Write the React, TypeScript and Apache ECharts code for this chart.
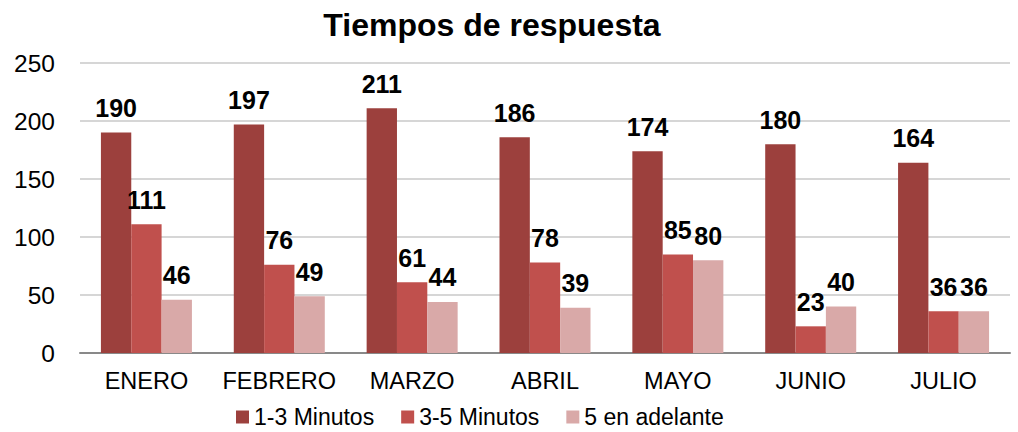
import React, { useEffect, useRef } from "react";
import * as echarts from "echarts";

const categories = ["ENERO", "FEBRERO", "MARZO", "ABRIL", "MAYO", "JUNIO", "JULIO"];
const s1Name = "1-3 Minutos";
const s2Name = "3-5 Minutos";
const s3Name = "5 en adelante";
const s1 = [190, 197, 211, 186, 174, 180, 164];
const s2 = [111, 76, 61, 78, 85, 23, 36];
const s3 = [46, 49, 44, 39, 80, 40, 36];
const colors = ["#9C403D", "#C0504D", "#D9A9A8"];

const FONT = "'Liberation Sans', Arial, sans-serif";

export default function App() {
  const ref = useRef<HTMLDivElement>(null);
  useEffect(() => {
    document.body.style.margin = "0";
    const chart = echarts.init(ref.current!, null, { renderer: "svg" });
    const label = {
      show: true,
      position: "top",
      distance: 12,
      fontFamily: FONT,
      fontWeight: "bold",
      fontSize: 25,
      color: "#000",
    };
    const mk = (name: string, data: number[], color: string) => ({
      name,
      type: "bar",
      data,
      barGap: "0%",
      barCategoryGap: "31.5%",
      itemStyle: { color },
      label,
    });
    chart.setOption({
      animation: false,
      textStyle: { fontFamily: FONT },
      title: {
        text: "Tiempos de respuesta",
        left: 487,
        textAlign: "center",
        top: 4,
        textStyle: { fontFamily: FONT, fontWeight: "bold", fontSize: 32, color: "#000" },
      },
      legend: {
        top: 405,
        left: 236,
        padding: 0,
        itemWidth: 13,
        itemHeight: 13,
        itemGap: 27,
        icon: "rect",
        textStyle: { fontFamily: FONT, fontSize: 23, color: "#000", lineHeight: 24, padding: [0, 0, 0, 0] },
        data: [s1Name, s2Name, s3Name],
      },
      grid: { left: 80, right: 8, top: 63, bottom: 79, containLabel: false },
      xAxis: {
        type: "category",
        data: categories,
        axisTick: { show: false },
        axisLine: { lineStyle: { color: "#898989", width: 2 } },
        axisLabel: { fontFamily: FONT, fontSize: 23.5, color: "#000", margin: 16, interval: 0 },
      },
      yAxis: {
        type: "value",
        min: 0,
        max: 250,
        interval: 50,
        axisLine: { show: false },
        axisTick: { show: false },
        splitLine: { lineStyle: { color: "#C8C8C8", width: 1.5 } },
        axisLabel: { fontFamily: FONT, fontSize: 24.5, color: "#000", margin: 25 },
      },
      series: [mk(s1Name, s1, colors[0]), mk(s2Name, s2, colors[1]), mk(s3Name, s3, colors[2])],
    });
    return () => chart.dispose();
  }, []);
  return <div ref={ref} style={{ width: 1018, height: 432, position: "absolute", left: 0, top: 0 }} />;
}
